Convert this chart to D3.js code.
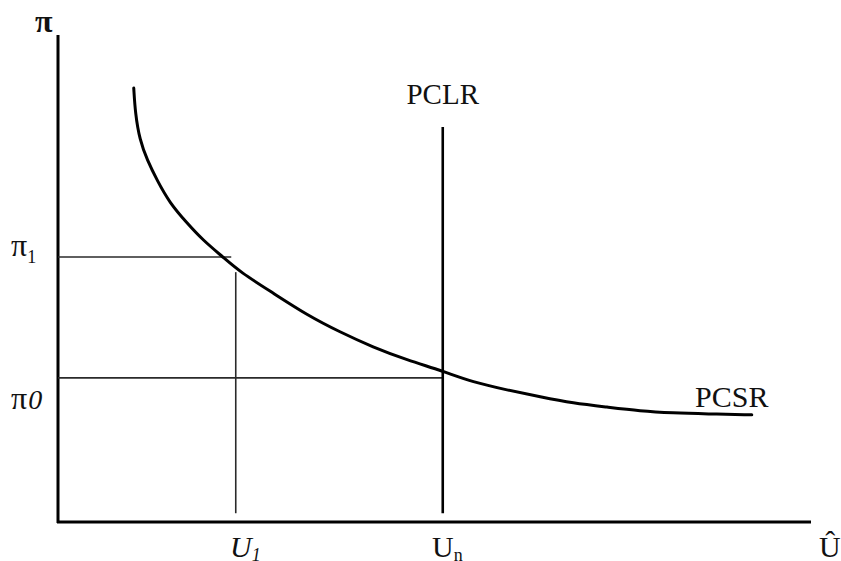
<!DOCTYPE html>
<html lang="en">
<head>
    <meta charset="UTF-8">
    <title>Phillips Curve</title>
    <script src="https://d3js.org/d3.v7.min.js"></script>
    <style>
        body { margin: 0; background: #fff; }
        text { font-family: "Liberation Serif", "DejaVu Serif", serif; fill: #111; }
    </style>
</head>
<body>
    <div id="chart"></div>

    <script>
        // Short-run Phillips curve (PCSR)
        const curveU  = [10.1, 10.3, 10.9, 11.9, 13.2, 14.9, 17.2, 19.3, 22.0, 24.3, 28.7, 33.2, 37.6, 42.0, 46.5, 51.3, 55.3, 59.9, 64.3, 68.7, 73.2, 77.6, 82.0, 86.5, 92.5];
        const curvePi = [89.1, 84.0, 78.4, 74.3, 70.2, 65.5, 61.4, 57.9, 54.4, 51.3, 47.0, 42.5, 39.0, 35.9, 33.3, 31.0, 28.7, 27.1, 25.7, 24.4, 23.6, 22.8, 22.4, 22.2, 22.0];

        // reference levels
        const pi1 = 54.4, pi0 = 29.6;
        const u1 = 23.7, un = 51.3;
        const pclrTop = 81.1, lineBottom = 1.8;

        const width = 841, height = 561;

        const x = d3.scaleLinear().domain([0, 100]).range([58, 808]);
        const y = d3.scaleLinear().domain([0, 100]).range([522, 35]);

        const svg = d3.select("#chart").append("svg")
            .attr("width", width)
            .attr("height", height);

        // axes (plain lines, no ticks)
        svg.append("line")
            .attr("x1", x(0)).attr("x2", x(0))
            .attr("y1", y(100)).attr("y2", y(-0.2))
            .attr("stroke", "#000").attr("stroke-width", 3);
        svg.append("line")
            .attr("x1", x(0) - 1).attr("x2", x(100.4))
            .attr("y1", y(0)).attr("y2", y(0))
            .attr("stroke", "#000").attr("stroke-width", 3);

        // guide lines
        const thin = svg.append("g").attr("stroke", "#2a2a2a").attr("stroke-width", 1.6);
        thin.append("line")
            .attr("x1", x(0)).attr("x2", x(23.1))
            .attr("y1", y(pi1)).attr("y2", y(pi1));
        thin.append("line")
            .attr("x1", x(u1)).attr("x2", x(u1))
            .attr("y1", y(51.3)).attr("y2", y(lineBottom));
        thin.append("line")
            .attr("x1", x(0)).attr("x2", x(un))
            .attr("y1", y(pi0)).attr("y2", y(pi0));

        // long-run curve (vertical)
        svg.append("line")
            .attr("x1", x(un)).attr("x2", x(un))
            .attr("y1", y(pclrTop)).attr("y2", y(lineBottom))
            .attr("stroke", "#000").attr("stroke-width", 2.6);

        // short-run curve
        const pts = curveU.map((u, i) => [u, curvePi[i]]);
        svg.append("path")
            .datum(pts)
            .attr("fill", "none")
            .attr("stroke", "#000")
            .attr("stroke-width", 3)
            .attr("stroke-linecap", "round")
            .attr("d", d3.line()
                .x(d => x(d[0]))
                .y(d => y(d[1]))
                .curve(d3.curveBasis));

        // labels
        svg.append("text")
            .attr("x", 35).attr("y", 32)
            .attr("font-size", 32).attr("font-weight", "bold")
            .text("π");

        const p1 = svg.append("text")
            .attr("x", 11).attr("y", y(pi1) - 1)
            .attr("font-size", 32);
        p1.append("tspan").text("π");
        p1.append("tspan").attr("font-size", 18).attr("dy", 7).text("1");

        const p0 = svg.append("text")
            .attr("x", 11).attr("y", 409)
            .attr("font-size", 32);
        p0.append("tspan").text("π");
        p0.append("tspan").attr("font-size", 28).attr("font-style", "italic").attr("dx", 1).text("0");

        const lu1 = svg.append("text")
            .attr("x", 230).attr("y", 557)
            .attr("font-size", 30).attr("font-style", "italic");
        lu1.append("tspan").text("U");
        lu1.append("tspan").attr("font-size", 18).attr("dy", 4).text("1");

        const lun = svg.append("text")
            .attr("x", 432).attr("y", 557)
            .attr("font-size", 30);
        lun.append("tspan").text("U");
        lun.append("tspan").attr("font-size", 18).attr("dy", 4).text("n");

        svg.append("text")
            .attr("x", 819).attr("y", 557)
            .attr("font-size", 30)
            .text("Û");

        svg.append("text")
            .attr("x", x(un)).attr("y", 104)
            .attr("text-anchor", "middle")
            .attr("font-size", 29)
            .text("PCLR");

        svg.append("text")
            .attr("x", 695).attr("y", 407)
            .attr("font-size", 30)
            .text("PCSR");
    </script>
</body>
</html>
